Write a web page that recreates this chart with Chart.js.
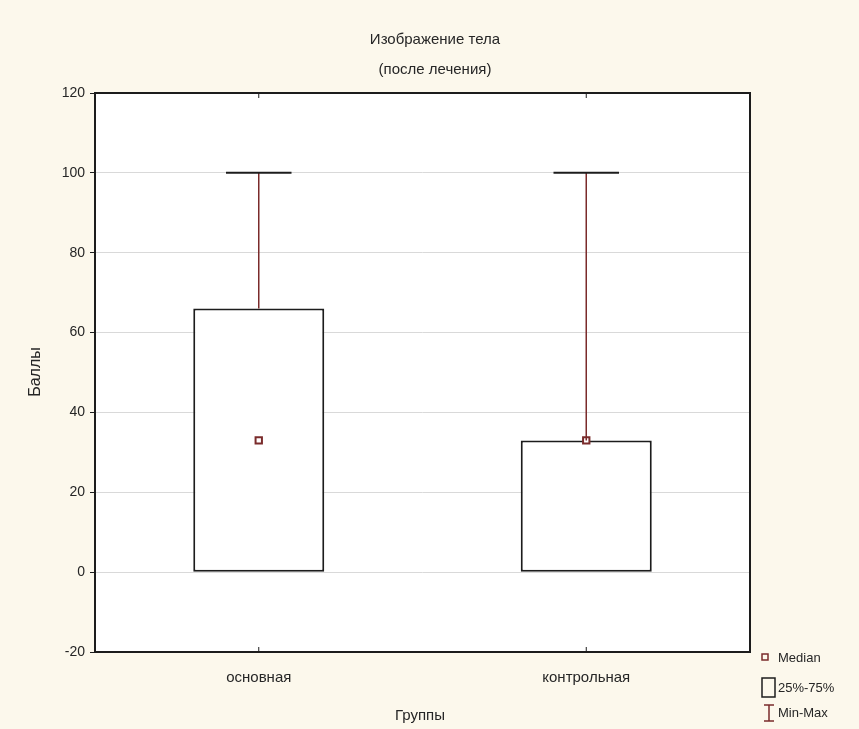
<!DOCTYPE html>
<html>
<head>
<meta charset="utf-8">
<script src="https://cdn.jsdelivr.net/npm/chart.js@4/dist/chart.umd.min.js"></script>
<style>
  html, body { margin: 0; padding: 0; background: #fcf8ec; }
  #wrap { width: 859px; height: 729px; }
</style>
</head>
<body>
<div id="wrap"><canvas id="chart"></canvas></div>
<script>
// values
const groups = ['основная', 'контрольная']
const mins = [0, 0]
const q1 = [0, 0]
const medians = [33, 33]
const q3 = [66, 33]
const maxs = [100, 100]
const yMin = -20
const yMax = 120
const yStep = 20

const titleLines = ['Изображение тела', '(после лечения)']
const xTitle = 'Группы'
const yTitle = 'Баллы'
const legendItems = ['Median', '25%-75%', 'Min-Max']

const FONT = '"Liberation Sans", Arial, sans-serif'
const MAROON = '#7a2b2b'
const DARK = '#1c1c1c'
const TEXT = '#262626'

const boxPlotExtras = {
  id: 'boxPlotExtras',
  beforeDraw(chart) {
    const { ctx, chartArea: a } = chart
    ctx.save()
    ctx.fillStyle = '#ffffff'
    ctx.fillRect(a.left, a.top, a.right - a.left, a.bottom - a.top)
    ctx.restore()
  },
  afterDatasetsDraw(chart) {
    const { ctx, chartArea: a, scales } = chart
    const x = scales.x, y = scales.y
    const bars = chart.getDatasetMeta(0).data

    ctx.save()
    // whiskers
    groups.forEach((g, i) => {
      const cx = x.getPixelForValue(i)
      const half = bars[i].width / 4
      const pairs = [[q3[i], maxs[i]], [q1[i], mins[i]]]
      pairs.forEach(([from, to]) => {
        if (from === to) return
        ctx.strokeStyle = MAROON
        ctx.lineWidth = 1.5
        ctx.beginPath()
        ctx.moveTo(cx, y.getPixelForValue(from))
        ctx.lineTo(cx, y.getPixelForValue(to))
        ctx.stroke()
        ctx.strokeStyle = DARK
        ctx.lineWidth = 2
        ctx.beginPath()
        ctx.moveTo(cx - half, y.getPixelForValue(to))
        ctx.lineTo(cx + half, y.getPixelForValue(to))
        ctx.stroke()
      })
    })

    // frame
    ctx.strokeStyle = DARK
    ctx.lineWidth = 2
    ctx.strokeRect(a.left, a.top, a.right - a.left, a.bottom - a.top)

    // category ticks on top and bottom edges
    ctx.lineWidth = 1
    groups.forEach((g, i) => {
      const cx = x.getPixelForValue(i)
      ctx.beginPath()
      ctx.moveTo(cx, a.top); ctx.lineTo(cx, a.top + 5)
      ctx.moveTo(cx, a.bottom); ctx.lineTo(cx, a.bottom - 5)
      ctx.stroke()
    })
    ctx.restore()
  },
  afterDraw(chart) {
    const { ctx } = chart
    ctx.save()
    ctx.fillStyle = TEXT
    ctx.textAlign = 'center'
    ctx.textBaseline = 'middle'
    ctx.font = '15px ' + FONT
    ctx.fillText(titleLines[0], 435, 40)
    ctx.fillText(titleLines[1], 435, 70)
    ctx.fillText(xTitle, 420, 716)

    ctx.save()
    ctx.translate(36, 372)
    ctx.rotate(-Math.PI / 2)
    ctx.font = '16px ' + FONT
    ctx.fillText(yTitle, 0, 0)
    ctx.restore()

    // legend
    ctx.textAlign = 'left'
    ctx.font = '13px ' + FONT
    ctx.strokeStyle = MAROON
    ctx.lineWidth = 1.5
    ctx.strokeRect(762, 654, 6, 6)
    ctx.fillText(legendItems[0], 778, 658)

    ctx.strokeStyle = DARK
    ctx.strokeRect(762, 678, 13, 19)
    ctx.fillText(legendItems[1], 778, 688)

    ctx.strokeStyle = MAROON
    ctx.beginPath()
    ctx.moveTo(769, 705); ctx.lineTo(769, 721)
    ctx.moveTo(764, 705); ctx.lineTo(774, 705)
    ctx.moveTo(764, 721); ctx.lineTo(774, 721)
    ctx.stroke()
    ctx.fillText(legendItems[2], 778, 713)
    ctx.restore()
  }
}

const ctx = document.getElementById('chart').getContext('2d')

new Chart(ctx, {
  data: {
    labels: groups,
    datasets: [
      {
        type: 'bar',
        label: '25%-75%',
        data: groups.map((g, i) => [q1[i], q3[i]]),
        backgroundColor: '#ffffff',
        borderColor: DARK,
        borderWidth: 2,
        borderSkipped: false,
        barPercentage: 0.4,
        categoryPercentage: 1,
        order: 2
      },
      {
        type: 'line',
        label: 'Median',
        data: medians,
        showLine: false,
        pointStyle: 'rect',
        pointRadius: 4.5,
        pointBackgroundColor: '#ffffff',
        pointBorderColor: MAROON,
        pointBorderWidth: 2,
        order: 1
      }
    ]
  },
  options: {
    responsive: true,
    maintainAspectRatio: false,
    animation: false,
    layout: { padding: { left: 0, right: 109, top: 93, bottom: 0 } },
    plugins: {
      legend: { display: false },
      tooltip: { enabled: false }
    },
    scales: {
      x: {
        type: 'category',
        offset: true,
        grid: { display: false, drawTicks: false },
        border: { display: false },
        ticks: { color: TEXT, font: { family: FONT, size: 15 }, padding: 17 },
        afterFit(scale) { scale.height = 77 }
      },
      y: {
        min: yMin,
        max: yMax,
        grid: { color: '#d9d9d9', lineWidth: 1, tickLength: 5, tickColor: DARK },
        border: { display: false },
        ticks: { stepSize: yStep, color: TEXT, font: { family: FONT, size: 14 }, padding: 5 },
        afterFit(scale) { scale.width = 95 }
      }
    }
  },
  plugins: [boxPlotExtras]
})
</script>
</body>
</html>
